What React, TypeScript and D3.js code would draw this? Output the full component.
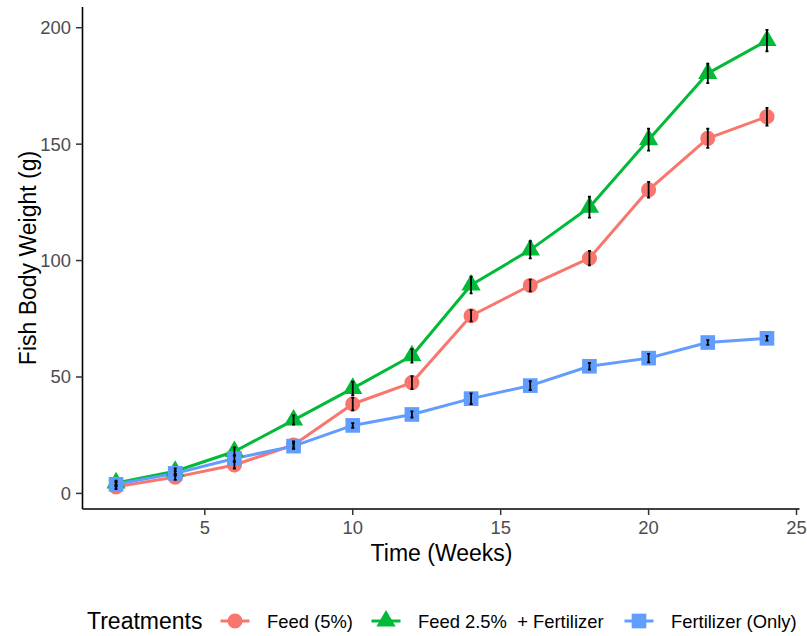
import React from 'react';
import * as d3 from 'd3';

// chart size
const W = 807;
const H = 636;
const FONT = '"Liberation Sans", Arial, Helvetica, sans-serif';

const weeks = [2, 4, 6, 8, 10, 12, 14, 16, 18, 20, 22, 24];
const feed5 = [2.8, 7, 12.2, 20.8, 38.4, 47.6, 76.3, 89.3, 101, 130.4, 152.5, 161.8];
const feed5Se = [1, 1.2, 1.5, 1.5, 2.7, 2.8, 2.4, 2.5, 3.1, 3.4, 4.1, 3.8];
const feedFert = [4.5, 9.5, 18, 31.5, 45.1, 59.1, 89.5, 104.6, 122.9, 151.9, 180.4, 194.5];
const feedFertSe = [1, 1.2, 1.8, 2, 2.9, 2.9, 3.6, 3.7, 4.5, 4.7, 4.2, 4.6];
const fertOnly = [3.9, 8.6, 15, 20.3, 29.2, 33.9, 40.7, 46.3, 54.6, 58.1, 64.8, 66.6];
const fertOnlySe = [1, 1, 1.3, 1.2, 1, 1.3, 2.3, 1.9, 1.4, 1.8, 1, 1];

const treatments = ['Feed (5%)', 'Feed 2.5%  + Fertilizer', 'Fertilizer (Only)'];
const xTicks = [5, 10, 15, 20, 25];
const yTicks = [0, 50, 100, 150, 200];

const series = [
  { name: treatments[0], mean: feed5, se: feed5Se, color: '#F8766D', symbol: d3.symbolCircle, size: 180 },
  { name: treatments[1], mean: feedFert, se: feedFertSe, color: '#00BA38', symbol: d3.symbolTriangle, size: 160 },
  { name: treatments[2], mean: fertOnly, se: fertOnlySe, color: '#619CFF', symbol: d3.symbolSquare, size: 215 },
];

const x = d3.scaleLinear().domain([0.9, 25.1]).range([83.5, 799.5]);
const y = d3.scaleLinear().domain([-6.7, 208.9]).range([509, 7]);

const legendItems = [
  { key: 235, text: 267 },
  { key: 386, text: 418 },
  { key: 639, text: 671 },
];

export default function App() {
  const line = d3.line<number>()
    .x((_, i) => x(weeks[i]))
    .y(d => y(d));

  const [x0, x1] = x.range();
  const [y0, y1] = y.range();

  return (
    <div style={{ position: 'fixed', left: 0, top: 0 }}>
      <svg width={W} height={H} xmlns="http://www.w3.org/2000/svg" style={{ display: 'block', background: '#fff' }}>
        {/* lines */}
        {series.map(s => (
          <path key={`l-${s.name}`} d={line(s.mean) || ''} fill="none" stroke={s.color} strokeWidth={3} strokeLinejoin="round" />
        ))}
        {/* points */}
        {series.map(s => s.mean.map((v, i) => (
          <path key={`p-${s.name}-${i}`} transform={`translate(${x(weeks[i])},${y(v)})`}
            d={d3.symbol(s.symbol, s.size)() || ''} fill={s.color} />
        )))}
        {/* error bars */}
        {series.map(s => s.mean.map((v, i) => {
          const cx = x(weeks[i]);
          const lo = y(v - s.se[i]);
          const hi = y(v + s.se[i]);
          return (
            <path key={`e-${s.name}-${i}`} d={`M${cx - 1.5},${hi}H${cx + 1.5}M${cx},${hi}V${lo}M${cx - 1.5},${lo}H${cx + 1.5}`}
              fill="none" stroke="#000" strokeWidth={1.8} />
          );
        }))}

        {/* axes */}
        <line x1={x0 - 1} x2={x1} y1={y0} y2={y0} stroke="#000" strokeWidth={1.6} />
        <line x1={x0 - 1} x2={x0 - 1} y1={y0} y2={y1} stroke="#000" strokeWidth={1.6} />
        {xTicks.map(t => (
          <g key={`xt-${t}`}>
            <line x1={x(t)} x2={x(t)} y1={y0} y2={y0 + 6} stroke="#333" strokeWidth={1.5} />
            <text x={x(t)} y={534} textAnchor="middle" fontFamily={FONT} fontSize={18.4} fill="#4D4D4D">{t}</text>
          </g>
        ))}
        {yTicks.map(t => (
          <g key={`yt-${t}`}>
            <line x1={x0 - 7.5} x2={x0 - 1} y1={y(t)} y2={y(t)} stroke="#333" strokeWidth={1.5} />
            <text x={71} y={y(t) + 6.5} textAnchor="end" fontFamily={FONT} fontSize={18.4} fill="#4D4D4D">{t}</text>
          </g>
        ))}

        {/* axis titles */}
        <text x={(x0 + x1) / 2} y={561} textAnchor="middle" fontFamily={FONT} fontSize={23} fill="#000">Time (Weeks)</text>
        <text transform={`translate(36,${(y0 + y1) / 2}) rotate(-90)`} textAnchor="middle" fontFamily={FONT} fontSize={23} fill="#000">Fish Body Weight (g)</text>

        {/* legend */}
        <text x={87} y={629} fontFamily={FONT} fontSize={23} fill="#000">Treatments</text>
        {series.map((s, i) => {
          const it = legendItems[i];
          return (
            <g key={`lg-${s.name}`}>
              <line x1={it.key - 14.5} x2={it.key + 14.5} y1={621} y2={621} stroke={s.color} strokeWidth={3} />
              <path transform={`translate(${it.key},621)`} d={d3.symbol(s.symbol, s.size)() || ''} fill={s.color} />
              <text x={it.text} y={627.5} fontFamily={FONT} fontSize={18.4} fill="#000" style={{ whiteSpace: 'pre' }}>{s.name}</text>
            </g>
          );
        })}
      </svg>
    </div>
  );
}
